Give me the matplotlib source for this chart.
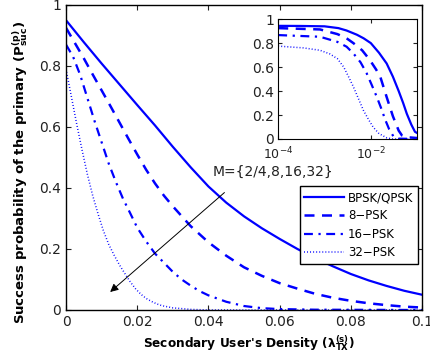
import matplotlib
matplotlib.use("Agg")
import matplotlib.pyplot as plt

# main plot: success probability vs secondary density
x_bpsk = [0, 0.005, 0.01, 0.015, 0.02, 0.025, 0.03, 0.035, 0.04, 0.045, 0.05,
          0.055, 0.06, 0.065, 0.07, 0.075, 0.08, 0.085, 0.09, 0.095, 0.1]
y_bpsk = [0.95, 0.878, 0.808, 0.74, 0.672, 0.605, 0.535, 0.468, 0.405, 0.352, 0.307,
          0.268, 0.233, 0.200, 0.170, 0.143, 0.118, 0.097, 0.079, 0.063, 0.05]

x_8psk = [0, 0.0025, 0.005, 0.0075, 0.01, 0.0125, 0.015, 0.0175, 0.02, 0.0225,
          0.025, 0.0275, 0.03, 0.035, 0.04, 0.045, 0.05, 0.055, 0.06, 0.065,
          0.07, 0.075, 0.08, 0.085, 0.09, 0.095, 0.1]
y_8psk = [0.925, 0.875, 0.825, 0.772, 0.72, 0.668, 0.615, 0.562, 0.51, 0.46,
          0.415, 0.375, 0.34, 0.275, 0.222, 0.178, 0.14, 0.112, 0.088, 0.07,
          0.053, 0.04, 0.03, 0.022, 0.016, 0.011, 0.008]

x_16psk = [0, 0.002, 0.004, 0.006, 0.008, 0.01, 0.012, 0.014, 0.016, 0.018,
           0.02, 0.0225, 0.025, 0.0275, 0.03, 0.0325, 0.035, 0.0375, 0.04,
           0.045, 0.05, 0.055, 0.06, 0.07, 0.1]
y_16psk = [0.87, 0.83, 0.77, 0.695, 0.62, 0.55, 0.48, 0.42, 0.365, 0.318,
           0.27, 0.225, 0.185, 0.155, 0.125, 0.10, 0.08, 0.062, 0.048,
           0.027, 0.013, 0.006, 0.003, 0.001, 0.0]

x_32psk = [0, 0.0015, 0.003, 0.0045, 0.006, 0.0075, 0.009, 0.0105, 0.012, 0.0135,
           0.015, 0.0165, 0.018, 0.0195, 0.021, 0.0225, 0.024, 0.0255, 0.027,
           0.03, 0.035, 0.04, 0.1]
y_32psk = [0.79, 0.70, 0.61, 0.525, 0.445, 0.375, 0.315, 0.26, 0.215, 0.18,
           0.148, 0.12, 0.093, 0.07, 0.052, 0.038, 0.028, 0.02, 0.014,
           0.007, 0.002, 0.0, 0.0]

# inset (log x axis)
xi_bpsk = [1e-4, 3e-4, 1e-3, 2e-3, 3e-3, 5e-3, 7e-3, 1e-2, 1.5e-2, 2.2e-2, 3e-2,
           4e-2, 5e-2, 6e-2, 7.5e-2, 9e-2, 1e-1]
yi_bpsk = [0.944, 0.943, 0.94, 0.925, 0.905, 0.87, 0.84, 0.80, 0.72, 0.63, 0.52,
           0.40, 0.30, 0.21, 0.12, 0.06, 0.05]

xi_8psk = [1e-4, 8e-4, 1.9e-3, 3e-3, 4.2e-3, 6.5e-3, 9.5e-3, 1.3e-2, 1.6e-2,
           2.2e-2, 3e-2, 4e-2, 4.7e-2, 6e-2, 1e-1]
yi_8psk = [0.925, 0.914, 0.875, 0.84, 0.80, 0.74, 0.66, 0.58, 0.52,
           0.35, 0.19, 0.07, 0.03, 0.015, 0.008]

xi_16psk = [1e-4, 8e-4, 1.9e-3, 3e-3, 4.2e-3, 6e-3, 8.1e-3, 1.05e-2, 1.35e-2,
            1.7e-2, 2.05e-2, 2.5e-2, 3.1e-2, 4e-2, 1e-1]
yi_16psk = [0.867, 0.853, 0.81, 0.77, 0.714, 0.64, 0.55, 0.45, 0.35,
            0.25, 0.16, 0.08, 0.02, 0.003, 0.0]

xi_32psk = [1e-4, 3.5e-4, 8e-4, 1.3e-3, 1.9e-3, 2.6e-3, 3.3e-3, 4.2e-3, 5.5e-3,
            6.9e-3, 9e-3, 1.12e-2, 1.5e-2, 2.2e-2, 3e-2, 1e-1]
yi_32psk = [0.775, 0.76, 0.74, 0.71, 0.67, 0.60, 0.52, 0.436, 0.33,
            0.24, 0.16, 0.10, 0.045, 0.01, 0.0, 0.0]

labels = ["BPSK/QPSK", "8\u2212PSK", "16\u2212PSK", "32\u2212PSK"]
styles = [dict(ls="-", lw=1.6),
          dict(ls=(0, (4, 3)), lw=1.8),
          dict(ls=(0, (4, 2.5, 1, 2.5)), lw=1.6),
          dict(ls=(0, (0.6, 1.4)), lw=1.1)]

plt.rcParams["font.family"] = "DejaVu Sans"
plt.rcParams["mathtext.fontset"] = "dejavusans"

fig = plt.figure(figsize=(4.3, 3.61), dpi=100)
ax = fig.add_axes([0.1535, 0.1413, 0.828, 0.845])

main = [(x_bpsk, y_bpsk), (x_8psk, y_8psk), (x_16psk, y_16psk), (x_32psk, y_32psk)]
for (xs, ys), lab, st in zip(main, labels, styles):
    ax.plot(xs, ys, color="#0000ff", label=lab, **st)

ax.set_xlim(0, 0.1)
ax.set_ylim(0, 1)
ax.set_xticks([0, 0.02, 0.04, 0.06, 0.08, 0.1])
ax.set_xticklabels(["0", "0.02", "0.04", "0.06", "0.08", "0.1"])
ax.set_yticks([0, 0.2, 0.4, 0.6, 0.8, 1])
ax.set_yticklabels(["0", "0.2", "0.4", "0.6", "0.8", "1"])
ax.tick_params(direction="in", top=True, right=True, length=3.5, labelsize=10, colors="#222222")
for s in ax.spines.values():
    s.set_linewidth(1.0)

ax.set_xlabel(r"Secondary User's Density ($\mathbf{\lambda_{TX}^{(s)}}$)",
              fontsize=8.7, fontweight="bold")
ax.xaxis.set_label_coords(0.514, -0.078)
ax.set_ylabel(r"Success probability of the primary ($\mathbf{P_{suc}^{(p)}}$)",
              fontsize=9.5, fontweight="bold")
ax.yaxis.set_label_coords(-0.10, 0.452)

ax.annotate("", xy=(0.0124, 0.059), xytext=(0.0445, 0.385),
            arrowprops=dict(arrowstyle="-|>", color="black", lw=0.7,
                            mutation_scale=12, shrinkA=0, shrinkB=0))
ax.text(0.0411, 0.452, "M={2/4,8,16,32}", fontsize=10, va="center", ha="left",
        color="#222222")

leg = ax.legend(loc="upper right", bbox_to_anchor=(0.989, 0.405), fontsize=8.5,
                fancybox=False, edgecolor="black", framealpha=1,
                handlelength=3.4, borderpad=0.4, labelspacing=0.45,
                handletextpad=0.3, borderaxespad=0)
leg.get_frame().set_linewidth(1.0)

# inset
axi = fig.add_axes([0.647, 0.615, 0.323, 0.332])
inset = [(xi_bpsk, yi_bpsk), (xi_8psk, yi_8psk), (xi_16psk, yi_16psk), (xi_32psk, yi_32psk)]
for (xs, ys), st in zip(inset, styles):
    axi.plot(xs, ys, color="#0000ff", **st)
axi.set_xscale("log")
axi.set_xlim(1e-4, 1e-1)
axi.set_ylim(0, 1)
axi.set_xticks([1e-4, 1e-2])
axi.set_xticklabels([r"$10^{-4}$", r"$10^{-2}$"])
axi.minorticks_off()
axi.set_yticks([0, 0.2, 0.4, 0.6, 0.8, 1])
axi.set_yticklabels(["0", "0.2", "0.4", "0.6", "0.8", "1"])
axi.tick_params(axis="y", direction="in", right=True, length=3, labelsize=10,
                colors="#222222", pad=3)
axi.tick_params(axis="x", direction="in", top=True, length=3, labelsize=9,
                colors="#222222", pad=5)

fig.savefig("out.png", dpi=100)
